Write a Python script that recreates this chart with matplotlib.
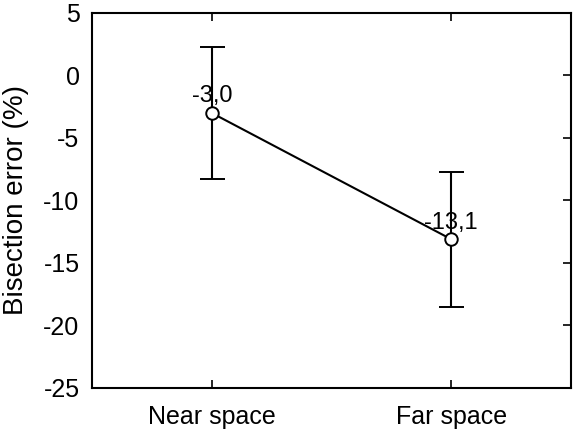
import matplotlib.pyplot as plt

plt.rcParams['font.family'] = ['Liberation Sans', 'DejaVu Sans']

# data
conditions = ['Near space', 'Far space']
means = [-3.0, -13.1]
errors = [5.3, 5.4]
labels = ['-3,0', '-13,1']
yticks = [5, 0, -5, -10, -15, -20, -25]

fig = plt.figure(figsize=(5.79, 4.33), dpi=100)
ax = fig.add_axes([0.159, 0.104, 0.827, 0.866])

x = [1, 2]
ax.errorbar(x, means, yerr=errors, color='k', lw=1.5, capsize=9,
            capthick=1.5, elinewidth=1.5, marker='o', markersize=9,
            markerfacecolor='white', markeredgecolor='k', markeredgewidth=1.4,
            zorder=3)

for xi, m, lab in zip(x, means, labels):
    ax.annotate(lab, (xi, m), xytext=(0, 4), textcoords='offset points',
                ha='center', va='bottom', fontsize=17)

ax.set_xlim(0.5, 2.5)
ax.set_ylim(-25, 5)
ax.set_xticks(x)
ax.set_xticklabels(conditions, fontsize=18)
ax.set_yticks(yticks)
ax.set_yticklabels([str(t) for t in yticks], fontsize=18)
ax.set_ylabel('Bisection error (%)', fontsize=20, labelpad=10)

ax.tick_params(axis='x', direction='in', top=True, length=6, width=1.2, pad=12)
ax.tick_params(axis='y', direction='in', left=False, right=True, length=6,
               width=1.2, pad=9)
for s in ax.spines.values():
    s.set_linewidth(1.5)

fig.savefig('out.png', dpi=100)
